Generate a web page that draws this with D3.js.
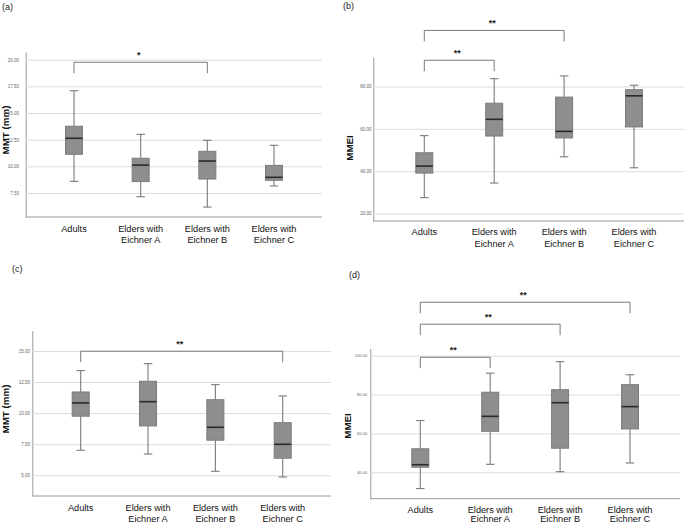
<!DOCTYPE html>
<html><head><meta charset="utf-8">
<script src="https://cdn.jsdelivr.net/npm/d3@7"></script>
<style>body{margin:0;background:#fff} svg{display:block;font-family:"Liberation Sans",Arial,sans-serif}</style>
</head><body>
<svg id="c" width="685" height="525"></svg>
<script>
// ---------- DATA ----------
const categories = ["Adults", "Elders with|Eichner A", "Elders with|Eichner B", "Elders with|Eichner C"];
// five-number summaries per group: [min, q1, median, q3, max]
const mmtA  = [[8.59,11.13,12.63,13.76,17.09],[7.15,8.57,10.12,10.76,13.00],[6.18,8.81,10.50,11.41,12.44],[8.16,8.69,8.97,10.09,11.97]];
const mmeiB = [[27.5,39.1,42.4,48.7,56.8],[34.4,56.6,64.5,72.1,83.7],[46.8,55.7,58.8,75.0,85.0],[41.6,60.9,75.6,78.5,80.6]];
const mmtC  = [[7.01,9.75,10.82,11.70,13.42],[6.71,8.97,10.92,12.56,13.98],[5.32,7.82,8.86,11.08,12.29],[4.86,6.37,7.49,9.23,11.38]];
const mmeiD = [[31.6,42.6,43.9,52.1,66.6],[44.1,61.1,68.8,81.2,91.0],[40.3,52.4,75.8,82.5,96.9],[44.8,62.3,73.8,85.1,90.2]];
const ticksA = [7.5,10,12.5,15,17.5,20];
const ticksB = [20,40,60,80];
const ticksC = [5,7.5,10,12.5,15];
const ticksD = [40,60,80,100];
const sigA = [{from:0,to:2,level:19.76,label:"*"}];
const sigB = [{from:0,to:1,level:92.4,label:"**"},{from:0,to:2,level:106.5,label:"**"}];
const sigC = [{from:0,to:3,level:14.98,label:"**"}];
const sigD = [{from:0,to:1,level:99.2,label:"**"},{from:0,to:2,level:116.2,label:"**"},{from:0,to:3,level:127.5,label:"**"}];
const panelNames = ["(a)","(b)","(c)","(d)"];
const yTitles = ["MMT (mm)","MMEI","MMT (mm)","MMEI"];

// ---------- LAYOUT ----------
const panels = [
  {stats:mmtA, ticks:ticksA, sig:sigA, name:panelNames[0], title:yTitles[0],
   x0:25.7, x1:322, y0:217, y1:52, cx0:74, cx1:274, domain:[5.25,20.72], pad:6.7, tfs:4.5,
   lab:[2,9.5], tt:[8.5,130], catY:232.3, catDy:10.5},
  {stats:mmeiB, ticks:ticksB, sig:sigB, name:panelNames[1], title:yTitles[1],
   x0:373.3, x1:684, y0:221, y1:57.3, cx0:424.3, cx1:634, domain:[16.46,93.8], pad:1.8, tfs:4.5,
   lab:[343,9], tt:[352.5,148], catY:234.6, catDy:12.7},
  {stats:mmtC, ticks:ticksC, sig:sigC, name:panelNames[2], title:yTitles[2],
   x0:32.3, x1:331, y0:496, y1:330.7, cx0:80.7, cx1:282.7, domain:[3.33,16.63], pad:2.3, tfs:4.5,
   lab:[12,272], tt:[8.5,409], catY:511.4, catDy:10.4},
  {stats:mmeiD, ticks:ticksD, sig:sigD, name:panelNames[3], title:yTitles[3],
   x0:370.3, x1:680, y0:498.7, y1:348.3, cx0:420.3, cx1:630, domain:[26.41,103.8], pad:3, tfs:4.1,
   lab:[349,278], tt:[350.8,426], catY:512.6, catDy:9.8}
];

const svg = d3.select("#c");
const boxW = 17, capW = 8.5, legLen = 11;

panels.forEach(p => {
  const g = svg.append("g");
  const y = d3.scaleLinear().domain(p.domain).range([p.y0, p.y1]);
  const x = d3.scalePoint().domain(d3.range(categories.length)).range([p.cx0, p.cx1]).padding(0);

  // gridlines + tick labels
  const ax = g.append("g").attr("transform", `translate(${p.x0},0)`)
    .call(d3.axisLeft(y).tickValues(p.ticks).tickFormat(d3.format(".2f"))
      .tickSize(-(p.x1 - p.x0)).tickSizeOuter(0).tickPadding(p.pad));
  ax.select(".domain").attr("stroke", "#9a9a9a").attr("stroke-width", 1);
  ax.selectAll(".tick line").attr("stroke", "#dcdcdc").attr("stroke-width", 1);
  ax.selectAll(".tick text").attr("fill", "#666").style("font-size", p.tfs + "px")
    .style("font-family", '"Liberation Sans",Arial,sans-serif');

  // bottom axis line
  g.append("line").attr("x1", p.x0).attr("x2", p.x1).attr("y1", p.y0).attr("y2", p.y0)
    .attr("stroke", "#9a9a9a").attr("stroke-width", 1);

  // boxes
  const bx = g.selectAll("g.box").data(p.stats).join("g").attr("class", "box");
  bx.append("line").attr("x1", (d,i) => x(i)).attr("x2", (d,i) => x(i))
    .attr("y1", d => y(d[4])).attr("y2", d => y(d[3])).attr("stroke", "#7a7a7a").attr("stroke-width", 1.1);
  bx.append("line").attr("x1", (d,i) => x(i)).attr("x2", (d,i) => x(i))
    .attr("y1", d => y(d[1])).attr("y2", d => y(d[0])).attr("stroke", "#7a7a7a").attr("stroke-width", 1.1);
  [0,4].forEach(k => bx.append("line")
    .attr("x1", (d,i) => x(i) - capW/2).attr("x2", (d,i) => x(i) + capW/2)
    .attr("y1", d => y(d[k])).attr("y2", d => y(d[k])).attr("stroke", "#7a7a7a").attr("stroke-width", 1.1));
  bx.append("rect").attr("x", (d,i) => x(i) - boxW/2).attr("width", boxW)
    .attr("y", d => y(d[3])).attr("height", d => y(d[1]) - y(d[3]))
    .attr("fill", "#8e8e8e").attr("stroke", "#7c7c7c").attr("stroke-width", 1);
  bx.append("line").attr("x1", (d,i) => x(i) - boxW/2).attr("x2", (d,i) => x(i) + boxW/2)
    .attr("y1", d => y(d[2])).attr("y2", d => y(d[2])).attr("stroke", "#2a2a2a").attr("stroke-width", 1.6);

  // category labels
  categories.forEach((c, i) => {
    const t = g.append("text").attr("text-anchor", "middle").attr("fill", "#111")
      .style("font-size", "9.2px");
    c.split("|").forEach((ln, j) => t.append("tspan").attr("x", x(i)).attr("y", p.catY + j * p.catDy).text(ln));
  });

  // significance brackets
  p.sig.forEach(s => {
    const xa = x(s.from), xb = x(s.to), yl = y(s.level);
    g.append("path").attr("d", `M${xa},${yl + legLen}V${yl}H${xb}V${yl + legLen}`)
      .attr("fill", "none").attr("stroke", "#7a7a7a").attr("stroke-width", 1);
    g.append("text").attr("x", (xa + xb) / 2 - 2).attr("y", yl - 4.5).attr("text-anchor", "middle")
      .style("font-size", "9px").style("font-weight", "bold").attr("fill", "#222").text(s.label);
  });

  // y title
  g.append("text").attr("transform", `translate(${p.tt[0]},${p.tt[1]}) rotate(-90)`)
    .attr("text-anchor", "middle").style("font-size", "9.8px").style("font-weight", "bold")
    .attr("fill", "#111").text(p.title);

  // panel label
  g.append("text").attr("x", p.lab[0]).attr("y", p.lab[1]).style("font-size", "9px").attr("fill", "#222").text(p.name);
});
</script>
</body></html>
